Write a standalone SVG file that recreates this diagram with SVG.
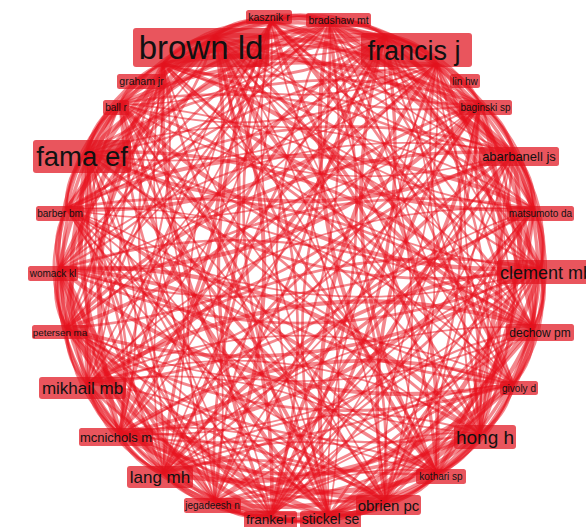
<svg xmlns="http://www.w3.org/2000/svg" width="586" height="527" viewBox="0 0 586 527">
<style>
.e path{fill:none;stroke:#e8101c;stroke-opacity:0.5}
.lb rect{fill:#e0141e;fill-opacity:0.72}
.lb text{font-family:"Liberation Sans",Arial,sans-serif;fill:#111;text-anchor:middle}
</style>
<defs>
<g id="sA" class="e">
<path d="M245,0Q254.3,30.9 237.9,58.6" stroke-width="4.2"/>
<path d="M245,0Q256,63.1 216.9,113.9" stroke-width="2.6"/>
<path d="M245,0Q178.5,67.7 183.4,162.5" stroke-width="1.7"/>
<path d="M245,0Q236.5,124.1 139.2,201.6" stroke-width="3.4"/>
<path d="M245,0Q115.5,79.8 86.9,229.1" stroke-width="2"/>
<path d="M245,0Q190.8,169 29.5,243.2" stroke-width="4.8"/>
<path d="M245,0Q54.2,61.2 -29.5,243.2" stroke-width="1.7"/>
<path d="M245,0Q129.5,187.5 -86.9,229.1" stroke-width="2.6"/>
<path d="M245,0Q8.6,16.3 -139.2,201.6" stroke-width="3.7"/>
<path d="M245,0Q66.6,175.5 -183.4,162.5" stroke-width="1.7"/>
<path d="M245,0Q-11,-44.7 -216.9,113.9" stroke-width="2.7"/>
<path d="M245,0Q16.5,135.5 -237.9,58.6" stroke-width="3.4"/>
</g>
<g id="sB" class="e">
<path d="M245,0Q254.3,30.9 237.9,58.6" stroke-width="2.6"/>
<path d="M245,0Q205.9,50.8 216.9,113.9" stroke-width="4.1"/>
<path d="M245,0Q249.9,94.8 183.4,162.5" stroke-width="3.1"/>
<path d="M245,0Q147.7,77.5 139.2,201.6" stroke-width="1.7"/>
<path d="M245,0Q216.3,149.3 86.9,229.1" stroke-width="4.4"/>
<path d="M245,0Q83.8,74.2 29.5,243.2" stroke-width="2"/>
<path d="M245,0Q161.2,182 -29.5,243.2" stroke-width="3.4"/>
<path d="M245,0Q28.7,41.5 -86.9,229.1" stroke-width="1.7"/>
<path d="M245,0Q97.3,185.3 -139.2,201.6" stroke-width="2.4"/>
<path d="M245,0Q-4.9,-13 -183.4,162.5" stroke-width="4.2"/>
<path d="M245,0Q39.1,158.6 -216.9,113.9" stroke-width="1.7"/>
<path d="M245,0Q-9.3,-76.9 -237.9,58.6" stroke-width="2.2"/>
</g>
<g id="sC" class="e">
<path d="M245,0Q254.3,30.9 237.9,58.6" stroke-width="3.4"/>
<path d="M245,0Q256,63.1 216.9,113.9" stroke-width="1.7"/>
<path d="M245,0Q249.9,94.8 183.4,162.5" stroke-width="4.2"/>
<path d="M245,0Q147.7,77.5 139.2,201.6" stroke-width="2.7"/>
<path d="M245,0Q115.5,79.8 86.9,229.1" stroke-width="1.7"/>
<path d="M245,0Q190.8,169 29.5,243.2" stroke-width="2.6"/>
<path d="M245,0Q161.2,182 -29.5,243.2" stroke-width="4.8"/>
<path d="M245,0Q28.7,41.5 -86.9,229.1" stroke-width="3.7"/>
<path d="M245,0Q8.6,16.3 -139.2,201.6" stroke-width="1.7"/>
<path d="M245,0Q66.6,175.5 -183.4,162.5" stroke-width="2.7"/>
<path d="M245,0Q39.1,158.6 -216.9,113.9" stroke-width="4.1"/>
<path d="M245,0Q-9.3,-76.9 -237.9,58.6" stroke-width="1.7"/>
</g>
<g id="sD" class="e">
<path d="M245,0Q0,107.8 -245,0" stroke-width="2.7"/>
</g>
</defs>
<g id="connectors" transform="translate(300 268.5) scale(0.982 1.015)">
<use href="#sA" transform="rotate(0)"/>
<use href="#sB" transform="rotate(13.846)"/>
<use href="#sC" transform="rotate(27.692)"/>
<use href="#sB" transform="rotate(41.538)"/>
<use href="#sA" transform="rotate(55.385)"/>
<use href="#sC" transform="rotate(69.231)"/>
<use href="#sC" transform="rotate(83.077)"/>
<use href="#sA" transform="rotate(96.923)"/>
<use href="#sB" transform="rotate(110.769)"/>
<use href="#sA" transform="rotate(124.615)"/>
<use href="#sC" transform="rotate(138.462)"/>
<use href="#sB" transform="rotate(152.308)"/>
<use href="#sA" transform="rotate(166.154)"/>
<use href="#sB" transform="rotate(180)"/>
<use href="#sC" transform="rotate(193.846)"/>
<use href="#sA" transform="rotate(207.692)"/>
<use href="#sB" transform="rotate(221.538)"/>
<use href="#sC" transform="rotate(235.385)"/>
<use href="#sA" transform="rotate(249.231)"/>
<use href="#sC" transform="rotate(263.077)"/>
<use href="#sB" transform="rotate(276.923)"/>
<use href="#sA" transform="rotate(290.769)"/>
<use href="#sB" transform="rotate(304.615)"/>
<use href="#sC" transform="rotate(318.462)"/>
<use href="#sA" transform="rotate(332.308)"/>
<use href="#sC" transform="rotate(346.154)"/>
<use href="#sD" transform="rotate(0)"/>
<use href="#sD" transform="rotate(193.846)"/>
<use href="#sD" transform="rotate(27.692)"/>
<use href="#sD" transform="rotate(221.538)"/>
<use href="#sD" transform="rotate(55.385)"/>
<use href="#sD" transform="rotate(249.231)"/>
<use href="#sD" transform="rotate(83.077)"/>
<use href="#sD" transform="rotate(276.923)"/>
<use href="#sD" transform="rotate(110.769)"/>
<use href="#sD" transform="rotate(304.615)"/>
<use href="#sD" transform="rotate(138.462)"/>
<use href="#sD" transform="rotate(332.308)"/>
<use href="#sD" transform="rotate(166.154)"/>
</g>
<g id="nodes">
<g id="n-kasznik" class="lb"><rect x="246" y="10" width="46" height="14" rx="2.5"/><text x="269" y="20.8" font-size="10.5">kasznik r</text></g>
<g id="n-bradshaw" class="lb"><rect x="306" y="13" width="65" height="14" rx="2.5"/><text x="338.5" y="23.8" font-size="10.5">bradshaw mt</text></g>
<g id="n-brown" class="lb"><rect x="133" y="28" width="136" height="39" rx="3"/><text x="201" y="59" font-size="33">brown ld</text></g>
<g id="n-francis" class="lb"><rect x="361" y="33" width="111" height="34" rx="3"/><text x="414" y="59.5" font-size="27">francis j</text></g>
<g id="n-graham" class="lb"><rect x="117" y="74" width="49" height="15" rx="2.5"/><text x="141.5" y="85.2" font-size="10.5">graham jr</text></g>
<g id="n-lin" class="lb"><rect x="450" y="74" width="30" height="14" rx="2.5"/><text x="465" y="84.5" font-size="10">lin hw</text></g>
<g id="n-ball" class="lb"><rect x="103" y="100" width="26" height="15" rx="2.5"/><text x="116" y="111" font-size="10">ball r</text></g>
<g id="n-baginski" class="lb"><rect x="459" y="100" width="53" height="15" rx="2.5"/><text x="485.5" y="111" font-size="10">baginski sp</text></g>
<g id="n-fama" class="lb"><rect x="33" y="140" width="98" height="33" rx="3"/><text x="82" y="166" font-size="27.5">fama ef</text></g>
<g id="n-abarbanell" class="lb"><rect x="479" y="147" width="80" height="19" rx="2.5"/><text x="519" y="161" font-size="13">abarbanell js</text></g>
<g id="n-barber" class="lb"><rect x="36" y="206" width="48" height="15" rx="2.5"/><text x="60" y="217" font-size="10">barber bm</text></g>
<g id="n-matsumoto" class="lb"><rect x="507" y="206" width="67" height="15" rx="2.5"/><text x="540.5" y="217" font-size="10">matsumoto da</text></g>
<g id="n-womack" class="lb"><rect x="28" y="266" width="50" height="15" rx="2.5"/><text x="53" y="277" font-size="10">womack kl</text></g>
<g id="n-clement" class="lb"><rect x="497" y="260" width="115" height="24" rx="3"/><text x="500" y="278.5" font-size="18" style="text-anchor:start">clement mb</text></g>
<g id="n-petersen" class="lb"><rect x="32" y="325" width="56" height="14" rx="2.5"/><text x="60" y="335.5" font-size="9.8">petersen ma</text></g>
<g id="n-dechow" class="lb"><rect x="506" y="324" width="68" height="17" rx="2.5"/><text x="540" y="336.8" font-size="12">dechow pm</text></g>
<g id="n-mikhail" class="lb"><rect x="39" y="377" width="87" height="22" rx="3"/><text x="82.5" y="394" font-size="17">mikhail mb</text></g>
<g id="n-givoly" class="lb"><rect x="500" y="381" width="38" height="14" rx="2.5"/><text x="519" y="391.5" font-size="10">givoly d</text></g>
<g id="n-mcnichols" class="lb"><rect x="79" y="428" width="74" height="18" rx="2.5"/><text x="116" y="441.5" font-size="13">mcnichols m</text></g>
<g id="n-hong" class="lb"><rect x="454" y="425" width="62" height="24" rx="3"/><text x="485" y="443.5" font-size="19">hong h</text></g>
<g id="n-lang" class="lb"><rect x="127" y="466" width="66" height="22" rx="3"/><text x="160" y="483" font-size="17">lang mh</text></g>
<g id="n-kothari" class="lb"><rect x="416" y="469" width="50" height="15" rx="2.5"/><text x="441" y="480" font-size="10">kothari sp</text></g>
<g id="n-jegadeesh" class="lb"><rect x="184" y="498" width="57" height="15" rx="2.5"/><text x="212.5" y="509" font-size="10">jegadeesh n</text></g>
<g id="n-obrien" class="lb"><rect x="356" y="495" width="65" height="20" rx="3"/><text x="388.5" y="510.5" font-size="15">obrien pc</text></g>
<g id="n-frankel" class="lb"><rect x="244" y="511" width="53" height="20" rx="2.5"/><text x="270.5" y="524" font-size="13.5">frankel r</text></g>
<g id="n-stickel" class="lb"><rect x="300" y="511" width="61" height="20" rx="2.5"/><text x="330.5" y="524" font-size="14">stickel se</text></g>
</g>
</svg>
